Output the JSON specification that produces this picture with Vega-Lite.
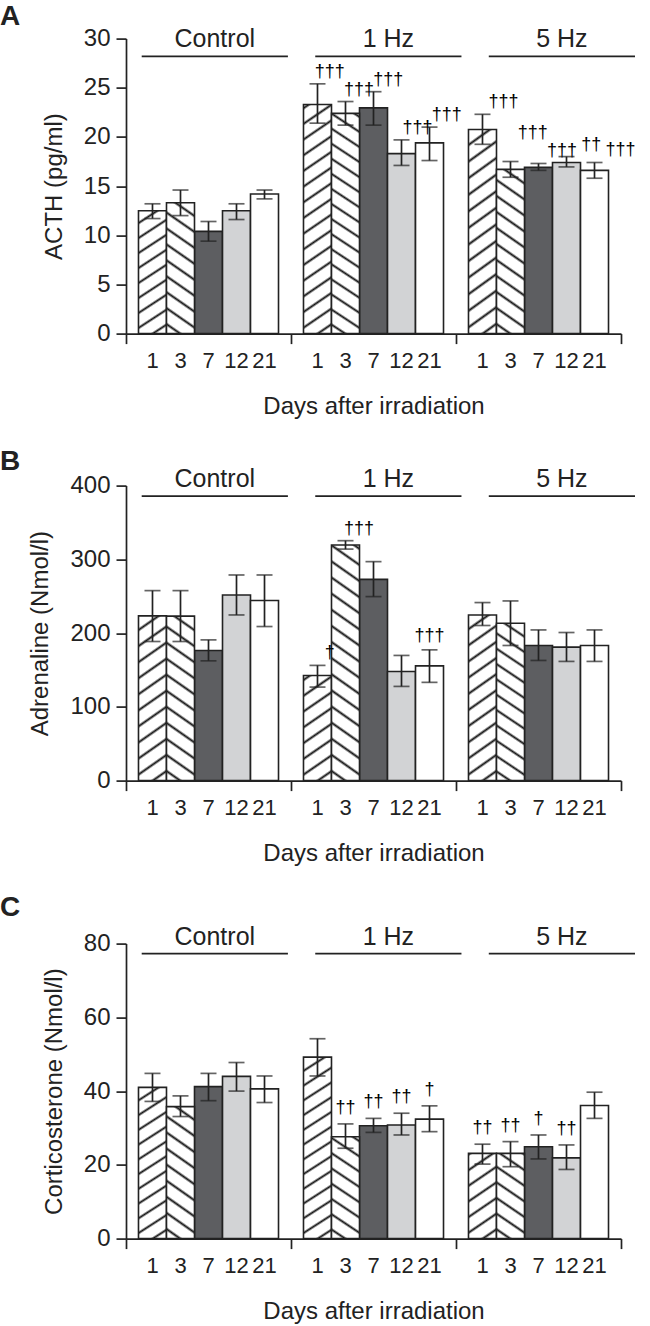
{
"$schema": "https://vega.github.io/schema/vega-lite/v6.json",
"padding": {"left": 0, "top": 2.6, "right": 0, "bottom": 0},
"background": "white",
"spacing": 28,
"datasets": {
"a": [
{"g":"Control","d":"1","m":12.5,"lo":11.7,"hi":13.2,"s":""},
{"g":"Control","d":"3","m":13.3,"lo":12.0,"hi":14.6,"s":""},
{"g":"Control","d":"7","m":10.4,"lo":9.4,"hi":11.4,"s":""},
{"g":"Control","d":"12","m":12.5,"lo":11.6,"hi":13.2,"s":""},
{"g":"Control","d":"21","m":14.2,"lo":13.7,"hi":14.6,"s":""},
{"g":"1 Hz","d":"1","m":23.3,"lo":21.4,"hi":25.4,"s":"†††"},
{"g":"1 Hz","d":"3","m":22.4,"lo":21.2,"hi":23.6,"s":"†††"},
{"g":"1 Hz","d":"7","m":22.95,"lo":21.2,"hi":24.6,"s":"†††"},
{"g":"1 Hz","d":"12","m":18.3,"lo":17.1,"hi":19.7,"s":"†††"},
{"g":"1 Hz","d":"21","m":19.4,"lo":17.6,"hi":21.0,"s":"†††"},
{"g":"5 Hz","d":"1","m":20.75,"lo":19.25,"hi":22.3,"s":"†††"},
{"g":"5 Hz","d":"3","m":16.7,"lo":15.9,"hi":17.5,"s":"†††"},
{"g":"5 Hz","d":"7","m":16.9,"lo":16.6,"hi":17.3,"s":"†††"},
{"g":"5 Hz","d":"12","m":17.4,"lo":16.95,"hi":18.0,"s":"††"},
{"g":"5 Hz","d":"21","m":16.6,"lo":15.8,"hi":17.4,"s":"†††"}
],
"b": [
{"g":"Control","d":"1","m":223.3,"lo":188.6,"hi":257.6,"s":""},
{"g":"Control","d":"3","m":223,"lo":188.6,"hi":257.6,"s":""},
{"g":"Control","d":"7","m":176.5,"lo":162.4,"hi":190.8,"s":""},
{"g":"Control","d":"12","m":251.7,"lo":224.6,"hi":278.8,"s":""},
{"g":"Control","d":"21","m":244.1,"lo":208.9,"hi":278.8,"s":""},
{"g":"1 Hz","d":"1","m":142.6,"lo":126.8,"hi":156.2,"s":"†"},
{"g":"1 Hz","d":"3","m":319.4,"lo":313.9,"hi":325.3,"s":"†††"},
{"g":"1 Hz","d":"7","m":272.9,"lo":249.5,"hi":296.9,"s":""},
{"g":"1 Hz","d":"12","m":148,"lo":127.7,"hi":169.7,"s":""},
{"g":"1 Hz","d":"21","m":155.6,"lo":133.2,"hi":177.3,"s":"†††"},
{"g":"5 Hz","d":"1","m":224.6,"lo":210.3,"hi":241.4,"s":""},
{"g":"5 Hz","d":"3","m":213.4,"lo":183.2,"hi":243.6,"s":""},
{"g":"5 Hz","d":"7","m":183.2,"lo":162.9,"hi":204.3,"s":""},
{"g":"5 Hz","d":"12","m":181,"lo":161.6,"hi":200.8,"s":""},
{"g":"5 Hz","d":"21","m":183.2,"lo":161.6,"hi":204.3,"s":""}
],
"c": [
{"g":"Control","d":"1","m":41.0,"lo":37.2,"hi":44.8,"s":""},
{"g":"Control","d":"3","m":35.8,"lo":33.1,"hi":38.7,"s":""},
{"g":"Control","d":"7","m":41.2,"lo":37.4,"hi":44.8,"s":""},
{"g":"Control","d":"12","m":44.0,"lo":40.0,"hi":47.75,"s":""},
{"g":"Control","d":"21","m":40.6,"lo":36.9,"hi":44.1,"s":""},
{"g":"1 Hz","d":"1","m":49.2,"lo":44.1,"hi":54.2,"s":""},
{"g":"1 Hz","d":"3","m":27.6,"lo":24.5,"hi":31.1,"s":"††"},
{"g":"1 Hz","d":"7","m":30.6,"lo":28.8,"hi":32.6,"s":"††"},
{"g":"1 Hz","d":"12","m":30.8,"lo":28.1,"hi":34.0,"s":"††"},
{"g":"1 Hz","d":"21","m":32.4,"lo":29.0,"hi":36.0,"s":"†"},
{"g":"5 Hz","d":"1","m":23.1,"lo":20.2,"hi":25.6,"s":"††"},
{"g":"5 Hz","d":"3","m":23.1,"lo":19.5,"hi":26.3,"s":"††"},
{"g":"5 Hz","d":"7","m":24.9,"lo":21.6,"hi":28.1,"s":"†"},
{"g":"5 Hz","d":"12","m":21.9,"lo":18.75,"hi":25.4,"s":"††"},
{"g":"5 Hz","d":"21","m":36.1,"lo":32.6,"hi":39.7,"s":""}
],
"hdr": [{"g":"Control"},{"g":"1 Hz"},{"g":"5 Hz"}]
},
"vconcat": [
{
"title": {"text": "A", "offset": -4.4},
"width": 495, "height": 295,
"resolve": {"scale": {"x": "independent", "xOffset": "independent"}},
"layer": [
{
"data": {"name": "a"},
"encoding": {
"x": {"field": "g", "type": "nominal", "scale": {"type": "band", "domain": ["Control","1 Hz","5 Hz"], "paddingInner": 0, "paddingOuter": 0}, "axis": {"labels": false, "tickBand": "extent", "title": "Days after irradiation", "titlePadding": 50}},
"xOffset": {"field": "d", "type": "nominal", "scale": {"type": "band", "domain": ["1","3","7","12","21"], "paddingInner": 0, "paddingOuter": 0.446}},
"y": {"field": "m", "type": "quantitative", "scale": {"domain": [0, 30], "nice": false}, "axis": {"values": [0,5,10,15,20,25,30], "title": "ACTH (pg/ml)"}}
},
"layer": [
{"transform": [{"filter": "datum.d=='7'||datum.d=='12'||datum.d=='21'"}], "mark": "bar", "encoding": {"fill": {"field": "d", "type": "nominal", "scale": {"domain": ["7","12","21"], "range": ["#5d5e61","#d2d3d5","#ffffff"]}, "legend": null}}},
{"transform": [{"filter": "datum.g=='Control'&&datum.d=='1'"}], "mark": {"type": "bar", "fill": {"gradient": "linear", "x1": 1, "y1": 1, "x2": 0.8328, "y2": -0.1239, "stops": [
{"offset":0.047,"color":"#fff"},{"offset":0.0633,"color":"#111"},{"offset":0.0796,"color":"#fff"},
{"offset":0.1531,"color":"#fff"},{"offset":0.1694,"color":"#111"},{"offset":0.1857,"color":"#fff"},
{"offset":0.2592,"color":"#fff"},{"offset":0.2755,"color":"#111"},{"offset":0.2918,"color":"#fff"},
{"offset":0.3653,"color":"#fff"},{"offset":0.3816,"color":"#111"},{"offset":0.3979,"color":"#fff"},
{"offset":0.4715,"color":"#fff"},{"offset":0.4878,"color":"#111"},{"offset":0.5041,"color":"#fff"},
{"offset":0.5776,"color":"#fff"},{"offset":0.5939,"color":"#111"},{"offset":0.6102,"color":"#fff"},
{"offset":0.6837,"color":"#fff"},{"offset":0.7,"color":"#111"},{"offset":0.7163,"color":"#fff"},
{"offset":0.7898,"color":"#fff"},{"offset":0.8061,"color":"#111"},{"offset":0.8224,"color":"#fff"},
{"offset":0.8959,"color":"#fff"},{"offset":0.9122,"color":"#111"},{"offset":0.9285,"color":"#fff"}]}}},
{"transform": [{"filter": "datum.g=='Control'&&datum.d=='3'"}], "mark": {"type": "bar", "fill": {"gradient": "linear", "x1": 0, "y1": 1, "x2": 0.1672, "y2": -0.1239, "stops": [
{"offset":0.047,"color":"#fff"},{"offset":0.0633,"color":"#111"},{"offset":0.0796,"color":"#fff"},
{"offset":0.1531,"color":"#fff"},{"offset":0.1694,"color":"#111"},{"offset":0.1857,"color":"#fff"},
{"offset":0.2592,"color":"#fff"},{"offset":0.2755,"color":"#111"},{"offset":0.2918,"color":"#fff"},
{"offset":0.3653,"color":"#fff"},{"offset":0.3816,"color":"#111"},{"offset":0.3979,"color":"#fff"},
{"offset":0.4715,"color":"#fff"},{"offset":0.4878,"color":"#111"},{"offset":0.5041,"color":"#fff"},
{"offset":0.5776,"color":"#fff"},{"offset":0.5939,"color":"#111"},{"offset":0.6102,"color":"#fff"},
{"offset":0.6837,"color":"#fff"},{"offset":0.7,"color":"#111"},{"offset":0.7163,"color":"#fff"},
{"offset":0.7898,"color":"#fff"},{"offset":0.8061,"color":"#111"},{"offset":0.8224,"color":"#fff"},
{"offset":0.8959,"color":"#fff"},{"offset":0.9122,"color":"#111"},{"offset":0.9285,"color":"#fff"}]}}},
{"transform": [{"filter": "datum.g=='1 Hz'&&datum.d=='1'"}], "mark": {"type": "bar", "fill": {"gradient": "linear", "x1": 1, "y1": 1, "x2": 0.9101, "y2": -0.076, "stops": [
{"offset":0.028,"color":"#fff"},{"offset":0.0377,"color":"#111"},{"offset":0.0474,"color":"#fff"},
{"offset":0.0911,"color":"#fff"},{"offset":0.1008,"color":"#111"},{"offset":0.1105,"color":"#fff"},
{"offset":0.1543,"color":"#fff"},{"offset":0.164,"color":"#111"},{"offset":0.1737,"color":"#fff"},
{"offset":0.2174,"color":"#fff"},{"offset":0.2271,"color":"#111"},{"offset":0.2368,"color":"#fff"},
{"offset":0.2806,"color":"#fff"},{"offset":0.2903,"color":"#111"},{"offset":0.3,"color":"#fff"},
{"offset":0.3438,"color":"#fff"},{"offset":0.3535,"color":"#111"},{"offset":0.3632,"color":"#fff"},
{"offset":0.4069,"color":"#fff"},{"offset":0.4166,"color":"#111"},{"offset":0.4263,"color":"#fff"},
{"offset":0.4701,"color":"#fff"},{"offset":0.4798,"color":"#111"},{"offset":0.4895,"color":"#fff"},
{"offset":0.5333,"color":"#fff"},{"offset":0.543,"color":"#111"},{"offset":0.5527,"color":"#fff"},
{"offset":0.5964,"color":"#fff"},{"offset":0.6061,"color":"#111"},{"offset":0.6158,"color":"#fff"},
{"offset":0.6596,"color":"#fff"},{"offset":0.6693,"color":"#111"},{"offset":0.679,"color":"#fff"},
{"offset":0.7228,"color":"#fff"},{"offset":0.7325,"color":"#111"},{"offset":0.7422,"color":"#fff"},
{"offset":0.7859,"color":"#fff"},{"offset":0.7956,"color":"#111"},{"offset":0.8053,"color":"#fff"},
{"offset":0.8491,"color":"#fff"},{"offset":0.8588,"color":"#111"},{"offset":0.8685,"color":"#fff"},
{"offset":0.9123,"color":"#fff"},{"offset":0.922,"color":"#111"},{"offset":0.9317,"color":"#fff"},
{"offset":0.9754,"color":"#fff"},{"offset":0.9851,"color":"#111"},{"offset":0.9948,"color":"#fff"}]}}},
{"transform": [{"filter": "datum.g=='1 Hz'&&datum.d=='3'"}], "mark": {"type": "bar", "fill": {"gradient": "linear", "x1": 0, "y1": 1, "x2": 0.0899, "y2": -0.076, "stops": [
{"offset":0.028,"color":"#fff"},{"offset":0.0377,"color":"#111"},{"offset":0.0474,"color":"#fff"},
{"offset":0.0911,"color":"#fff"},{"offset":0.1008,"color":"#111"},{"offset":0.1105,"color":"#fff"},
{"offset":0.1543,"color":"#fff"},{"offset":0.164,"color":"#111"},{"offset":0.1737,"color":"#fff"},
{"offset":0.2174,"color":"#fff"},{"offset":0.2271,"color":"#111"},{"offset":0.2368,"color":"#fff"},
{"offset":0.2806,"color":"#fff"},{"offset":0.2903,"color":"#111"},{"offset":0.3,"color":"#fff"},
{"offset":0.3438,"color":"#fff"},{"offset":0.3535,"color":"#111"},{"offset":0.3632,"color":"#fff"},
{"offset":0.4069,"color":"#fff"},{"offset":0.4166,"color":"#111"},{"offset":0.4263,"color":"#fff"},
{"offset":0.4701,"color":"#fff"},{"offset":0.4798,"color":"#111"},{"offset":0.4895,"color":"#fff"},
{"offset":0.5333,"color":"#fff"},{"offset":0.543,"color":"#111"},{"offset":0.5527,"color":"#fff"},
{"offset":0.5964,"color":"#fff"},{"offset":0.6061,"color":"#111"},{"offset":0.6158,"color":"#fff"},
{"offset":0.6596,"color":"#fff"},{"offset":0.6693,"color":"#111"},{"offset":0.679,"color":"#fff"},
{"offset":0.7228,"color":"#fff"},{"offset":0.7325,"color":"#111"},{"offset":0.7422,"color":"#fff"},
{"offset":0.7859,"color":"#fff"},{"offset":0.7956,"color":"#111"},{"offset":0.8053,"color":"#fff"},
{"offset":0.8491,"color":"#fff"},{"offset":0.8588,"color":"#111"},{"offset":0.8685,"color":"#fff"},
{"offset":0.9123,"color":"#fff"},{"offset":0.922,"color":"#111"},{"offset":0.9317,"color":"#fff"},
{"offset":0.9754,"color":"#fff"},{"offset":0.9851,"color":"#111"},{"offset":0.9948,"color":"#fff"}]}}},
{"transform": [{"filter": "datum.g=='5 Hz'&&datum.d=='1'"}], "mark": {"type": "bar", "fill": {"gradient": "linear", "x1": 1, "y1": 1, "x2": 0.8921, "y2": -0.0885, "stops": [
{"offset":0.0327,"color":"#fff"},{"offset":0.0441,"color":"#111"},{"offset":0.0555,"color":"#fff"},
{"offset":0.1066,"color":"#fff"},{"offset":0.118,"color":"#111"},{"offset":0.1294,"color":"#fff"},
{"offset":0.1805,"color":"#fff"},{"offset":0.1919,"color":"#111"},{"offset":0.2033,"color":"#fff"},
{"offset":0.2545,"color":"#fff"},{"offset":0.2659,"color":"#111"},{"offset":0.2773,"color":"#fff"},
{"offset":0.3284,"color":"#fff"},{"offset":0.3398,"color":"#111"},{"offset":0.3512,"color":"#fff"},
{"offset":0.4023,"color":"#fff"},{"offset":0.4137,"color":"#111"},{"offset":0.4251,"color":"#fff"},
{"offset":0.4762,"color":"#fff"},{"offset":0.4876,"color":"#111"},{"offset":0.499,"color":"#fff"},
{"offset":0.5502,"color":"#fff"},{"offset":0.5616,"color":"#111"},{"offset":0.573,"color":"#fff"},
{"offset":0.6241,"color":"#fff"},{"offset":0.6355,"color":"#111"},{"offset":0.6469,"color":"#fff"},
{"offset":0.698,"color":"#fff"},{"offset":0.7094,"color":"#111"},{"offset":0.7208,"color":"#fff"},
{"offset":0.772,"color":"#fff"},{"offset":0.7834,"color":"#111"},{"offset":0.7948,"color":"#fff"},
{"offset":0.8459,"color":"#fff"},{"offset":0.8573,"color":"#111"},{"offset":0.8687,"color":"#fff"},
{"offset":0.9198,"color":"#fff"},{"offset":0.9312,"color":"#111"},{"offset":0.9426,"color":"#fff"}]}}},
{"transform": [{"filter": "datum.g=='5 Hz'&&datum.d=='3'"}], "mark": {"type": "bar", "fill": {"gradient": "linear", "x1": 0, "y1": 1, "x2": 0.1313, "y2": -0.1034, "stops": [
{"offset":0.0386,"color":"#fff"},{"offset":0.052,"color":"#111"},{"offset":0.0654,"color":"#fff"},
{"offset":0.1257,"color":"#fff"},{"offset":0.1391,"color":"#111"},{"offset":0.1525,"color":"#fff"},
{"offset":0.2128,"color":"#fff"},{"offset":0.2262,"color":"#111"},{"offset":0.2396,"color":"#fff"},
{"offset":0.3,"color":"#fff"},{"offset":0.3134,"color":"#111"},{"offset":0.3268,"color":"#fff"},
{"offset":0.3872,"color":"#fff"},{"offset":0.4006,"color":"#111"},{"offset":0.414,"color":"#fff"},
{"offset":0.4743,"color":"#fff"},{"offset":0.4877,"color":"#111"},{"offset":0.5011,"color":"#fff"},
{"offset":0.5615,"color":"#fff"},{"offset":0.5749,"color":"#111"},{"offset":0.5883,"color":"#fff"},
{"offset":0.6486,"color":"#fff"},{"offset":0.662,"color":"#111"},{"offset":0.6754,"color":"#fff"},
{"offset":0.7358,"color":"#fff"},{"offset":0.7492,"color":"#111"},{"offset":0.7626,"color":"#fff"},
{"offset":0.8229,"color":"#fff"},{"offset":0.8363,"color":"#111"},{"offset":0.8497,"color":"#fff"},
{"offset":0.9101,"color":"#fff"},{"offset":0.9235,"color":"#111"},{"offset":0.9369,"color":"#fff"}]}}},
{"mark": "rule", "encoding": {"y": {"field": "lo", "type": "quantitative"}, "y2": {"field": "hi"}}},
{"mark": {"type": "tick", "size": 16}, "encoding": {"y": {"field": "lo", "type": "quantitative"}}},
{"mark": {"type": "tick", "size": 16}, "encoding": {"y": {"field": "hi", "type": "quantitative"}}},
{"mark": {"type": "text", "baseline": "middle", "dy": 27, "fontSize": 22}, "encoding": {"y": {"datum": 0}, "text": {"field": "d"}}}
]
},
{
"encoding": {"x": {"field": "g", "type": "nominal", "scale": {"type": "band", "domain": ["Control","1 Hz","5 Hz"], "range": [15.7, 509], "paddingInner": 0.1575, "paddingOuter": 0}, "axis": null}},
"layer": [
{"data": {"name": "hdr"}, "mark": "rule", "encoding": {"x": {"field": "g", "type": "nominal", "bandPosition": 0, "axis": null}, "x2": {"field": "g", "bandPosition": 1}, "y": {"datum": 28.2}}},
{"data": {"name": "hdr"}, "mark": {"type": "text", "fontSize": 25, "baseline": "alphabetic"}, "encoding": {"y": {"datum": 29.1}, "text": {"field": "g"}}},
{"data": {"name": "a"}, "transform": [{"filter": "datum.s!=''&&!(datum.g=='5 Hz'&&datum.d=='3')"}], "mark": {"type": "text", "fontSize": 18, "baseline": "alphabetic", "dy": -7, "color": "#000"}, "encoding": {"xOffset": {"field": "d", "type": "nominal", "scale": {"type": "band", "domain": ["1","3","7","12","21"], "paddingInner": 0, "paddingOuter": 0}}, "y": {"field": "hi", "type": "quantitative"}, "text": {"field": "s"}}},
{"data": {"name": "a"}, "transform": [{"filter": "datum.g=='5 Hz'&&datum.d=='3'"}], "mark": {"type": "text", "fontSize": 18, "baseline": "alphabetic", "dy": -24, "color": "#000"}, "encoding": {"xOffset": {"field": "d", "type": "nominal", "scale": {"type": "band", "domain": ["1","3","7","12","21"], "paddingInner": 0, "paddingOuter": 0}}, "y": {"field": "hi", "type": "quantitative"}, "text": {"field": "s"}}}
]
}
]
},
{
"title": {"text": "B", "offset": -8.8},
"width": 495, "height": 295,
"resolve": {"scale": {"x": "independent", "xOffset": "independent"}},
"layer": [
{
"data": {"name": "b"},
"encoding": {
"x": {"field": "g", "type": "nominal", "scale": {"type": "band", "domain": ["Control","1 Hz","5 Hz"], "paddingInner": 0, "paddingOuter": 0}, "axis": {"labels": false, "tickBand": "extent", "title": "Days after irradiation", "titlePadding": 50}},
"xOffset": {"field": "d", "type": "nominal", "scale": {"type": "band", "domain": ["1","3","7","12","21"], "paddingInner": 0, "paddingOuter": 0.446}},
"y": {"field": "m", "type": "quantitative", "scale": {"domain": [0, 400], "nice": false}, "axis": {"values": [0,100,200,300,400], "title": "Adrenaline (Nmol/l)"}}
},
"layer": [
{"transform": [{"filter": "datum.d=='7'||datum.d=='12'||datum.d=='21'"}], "mark": "bar", "encoding": {"fill": {"field": "d", "type": "nominal", "scale": {"domain": ["7","12","21"], "range": ["#5d5e61","#d2d3d5","#ffffff"]}, "legend": null}}},
{"transform": [{"filter": "(datum.g=='Control'||datum.g=='5 Hz')&&datum.d=='1'"}], "mark": {"type": "bar", "fill": {"gradient": "linear", "x1": 1, "y1": 1, "x2": 0.8687, "y2": -0.1034, "stops": [
{"offset":0.0386,"color":"#fff"},{"offset":0.052,"color":"#111"},{"offset":0.0654,"color":"#fff"},
{"offset":0.1257,"color":"#fff"},{"offset":0.1391,"color":"#111"},{"offset":0.1525,"color":"#fff"},
{"offset":0.2128,"color":"#fff"},{"offset":0.2262,"color":"#111"},{"offset":0.2396,"color":"#fff"},
{"offset":0.3,"color":"#fff"},{"offset":0.3134,"color":"#111"},{"offset":0.3268,"color":"#fff"},
{"offset":0.3872,"color":"#fff"},{"offset":0.4006,"color":"#111"},{"offset":0.414,"color":"#fff"},
{"offset":0.4743,"color":"#fff"},{"offset":0.4877,"color":"#111"},{"offset":0.5011,"color":"#fff"},
{"offset":0.5615,"color":"#fff"},{"offset":0.5749,"color":"#111"},{"offset":0.5883,"color":"#fff"},
{"offset":0.6486,"color":"#fff"},{"offset":0.662,"color":"#111"},{"offset":0.6754,"color":"#fff"},
{"offset":0.7358,"color":"#fff"},{"offset":0.7492,"color":"#111"},{"offset":0.7626,"color":"#fff"},
{"offset":0.8229,"color":"#fff"},{"offset":0.8363,"color":"#111"},{"offset":0.8497,"color":"#fff"},
{"offset":0.9101,"color":"#fff"},{"offset":0.9235,"color":"#111"},{"offset":0.9369,"color":"#fff"}]}}},
{"transform": [{"filter": "(datum.g=='Control'||datum.g=='5 Hz')&&datum.d=='3'"}], "mark": {"type": "bar", "fill": {"gradient": "linear", "x1": 0, "y1": 1, "x2": 0.1313, "y2": -0.1034, "stops": [
{"offset":0.0386,"color":"#fff"},{"offset":0.052,"color":"#111"},{"offset":0.0654,"color":"#fff"},
{"offset":0.1257,"color":"#fff"},{"offset":0.1391,"color":"#111"},{"offset":0.1525,"color":"#fff"},
{"offset":0.2128,"color":"#fff"},{"offset":0.2262,"color":"#111"},{"offset":0.2396,"color":"#fff"},
{"offset":0.3,"color":"#fff"},{"offset":0.3134,"color":"#111"},{"offset":0.3268,"color":"#fff"},
{"offset":0.3872,"color":"#fff"},{"offset":0.4006,"color":"#111"},{"offset":0.414,"color":"#fff"},
{"offset":0.4743,"color":"#fff"},{"offset":0.4877,"color":"#111"},{"offset":0.5011,"color":"#fff"},
{"offset":0.5615,"color":"#fff"},{"offset":0.5749,"color":"#111"},{"offset":0.5883,"color":"#fff"},
{"offset":0.6486,"color":"#fff"},{"offset":0.662,"color":"#111"},{"offset":0.6754,"color":"#fff"},
{"offset":0.7358,"color":"#fff"},{"offset":0.7492,"color":"#111"},{"offset":0.7626,"color":"#fff"},
{"offset":0.8229,"color":"#fff"},{"offset":0.8363,"color":"#111"},{"offset":0.8497,"color":"#fff"},
{"offset":0.9101,"color":"#fff"},{"offset":0.9235,"color":"#111"},{"offset":0.9369,"color":"#fff"}]}}},
{"transform": [{"filter": "datum.g=='1 Hz'&&datum.d=='1'"}], "mark": {"type": "bar", "fill": {"gradient": "linear", "x1": 1, "y1": 1, "x2": 0.7904, "y2": -0.1447, "stops": [
{"offset":0.0561,"color":"#fff"},{"offset":0.0756,"color":"#111"},{"offset":0.0951,"color":"#fff"},
{"offset":0.1829,"color":"#fff"},{"offset":0.2024,"color":"#111"},{"offset":0.2219,"color":"#fff"},
{"offset":0.3098,"color":"#fff"},{"offset":0.3293,"color":"#111"},{"offset":0.3488,"color":"#fff"},
{"offset":0.4366,"color":"#fff"},{"offset":0.4561,"color":"#111"},{"offset":0.4756,"color":"#fff"},
{"offset":0.5634,"color":"#fff"},{"offset":0.5829,"color":"#111"},{"offset":0.6024,"color":"#fff"},
{"offset":0.6903,"color":"#fff"},{"offset":0.7098,"color":"#111"},{"offset":0.7293,"color":"#fff"},
{"offset":0.8171,"color":"#fff"},{"offset":0.8366,"color":"#111"},{"offset":0.8561,"color":"#fff"},
{"offset":0.9439,"color":"#fff"},{"offset":0.9634,"color":"#111"},{"offset":0.9829,"color":"#fff"}]}}},
{"transform": [{"filter": "datum.g=='1 Hz'&&datum.d=='3'"}], "mark": {"type": "bar", "fill": {"gradient": "linear", "x1": 0, "y1": 1, "x2": 0.0899, "y2": -0.076, "stops": [
{"offset":0.028,"color":"#fff"},{"offset":0.0377,"color":"#111"},{"offset":0.0474,"color":"#fff"},
{"offset":0.0911,"color":"#fff"},{"offset":0.1008,"color":"#111"},{"offset":0.1105,"color":"#fff"},
{"offset":0.1543,"color":"#fff"},{"offset":0.164,"color":"#111"},{"offset":0.1737,"color":"#fff"},
{"offset":0.2174,"color":"#fff"},{"offset":0.2271,"color":"#111"},{"offset":0.2368,"color":"#fff"},
{"offset":0.2806,"color":"#fff"},{"offset":0.2903,"color":"#111"},{"offset":0.3,"color":"#fff"},
{"offset":0.3438,"color":"#fff"},{"offset":0.3535,"color":"#111"},{"offset":0.3632,"color":"#fff"},
{"offset":0.4069,"color":"#fff"},{"offset":0.4166,"color":"#111"},{"offset":0.4263,"color":"#fff"},
{"offset":0.4701,"color":"#fff"},{"offset":0.4798,"color":"#111"},{"offset":0.4895,"color":"#fff"},
{"offset":0.5333,"color":"#fff"},{"offset":0.543,"color":"#111"},{"offset":0.5527,"color":"#fff"},
{"offset":0.5964,"color":"#fff"},{"offset":0.6061,"color":"#111"},{"offset":0.6158,"color":"#fff"},
{"offset":0.6596,"color":"#fff"},{"offset":0.6693,"color":"#111"},{"offset":0.679,"color":"#fff"},
{"offset":0.7228,"color":"#fff"},{"offset":0.7325,"color":"#111"},{"offset":0.7422,"color":"#fff"},
{"offset":0.7859,"color":"#fff"},{"offset":0.7956,"color":"#111"},{"offset":0.8053,"color":"#fff"},
{"offset":0.8491,"color":"#fff"},{"offset":0.8588,"color":"#111"},{"offset":0.8685,"color":"#fff"},
{"offset":0.9123,"color":"#fff"},{"offset":0.922,"color":"#111"},{"offset":0.9317,"color":"#fff"},
{"offset":0.9754,"color":"#fff"},{"offset":0.9851,"color":"#111"},{"offset":0.9948,"color":"#fff"}]}}},
{"mark": "rule", "encoding": {"y": {"field": "lo", "type": "quantitative"}, "y2": {"field": "hi"}}},
{"mark": {"type": "tick", "size": 16}, "encoding": {"y": {"field": "lo", "type": "quantitative"}}},
{"mark": {"type": "tick", "size": 16}, "encoding": {"y": {"field": "hi", "type": "quantitative"}}},
{"mark": {"type": "text", "baseline": "middle", "dy": 27, "fontSize": 22}, "encoding": {"y": {"datum": 0}, "text": {"field": "d"}}},
{"transform": [{"filter": "datum.s!=''&&datum.d=='21'"}], "mark": {"type": "text", "fontSize": 18, "baseline": "alphabetic", "dy": -9, "color": "#000"}, "encoding": {"y": {"field": "hi", "type": "quantitative"}, "text": {"field": "s"}}}
]
},
{
"encoding": {"x": {"field": "g", "type": "nominal", "scale": {"type": "band", "domain": ["Control","1 Hz","5 Hz"], "range": [15.7, 509], "paddingInner": 0.1575, "paddingOuter": 0}, "axis": null}},
"layer": [
{"data": {"name": "hdr"}, "mark": "rule", "encoding": {"x": {"field": "g", "type": "nominal", "bandPosition": 0, "axis": null}, "x2": {"field": "g", "bandPosition": 1}, "y": {"datum": 385.7}}},
{"data": {"name": "hdr"}, "mark": {"type": "text", "fontSize": 25, "baseline": "alphabetic"}, "encoding": {"y": {"datum": 398.4}, "text": {"field": "g"}}},
{"data": {"name": "b"}, "transform": [{"filter": "datum.s!=''&&datum.d!='21'"}], "mark": {"type": "text", "fontSize": 18, "baseline": "alphabetic", "dy": -7, "color": "#000"}, "encoding": {"xOffset": {"field": "d", "type": "nominal", "scale": {"type": "band", "domain": ["1","3","7","12","21"], "paddingInner": 0, "paddingOuter": 0}}, "y": {"field": "hi", "type": "quantitative"}, "text": {"field": "s"}}}
]
}
]
},
{
"title": {"text": "C", "offset": 2.8},
"width": 495, "height": 295,
"resolve": {"scale": {"x": "independent", "xOffset": "independent"}},
"layer": [
{
"data": {"name": "c"},
"encoding": {
"x": {"field": "g", "type": "nominal", "scale": {"type": "band", "domain": ["Control","1 Hz","5 Hz"], "paddingInner": 0, "paddingOuter": 0}, "axis": {"labels": false, "tickBand": "extent", "title": "Days after irradiation", "titlePadding": 50}},
"xOffset": {"field": "d", "type": "nominal", "scale": {"type": "band", "domain": ["1","3","7","12","21"], "paddingInner": 0, "paddingOuter": 0.446}},
"y": {"field": "m", "type": "quantitative", "scale": {"domain": [0, 80], "nice": false}, "axis": {"values": [0,20,40,60,80], "title": "Corticosterone (Nmol/l)"}}
},
"layer": [
{"transform": [{"filter": "datum.d=='7'||datum.d=='12'||datum.d=='21'"}], "mark": "bar", "encoding": {"fill": {"field": "d", "type": "nominal", "scale": {"domain": ["7","12","21"], "range": ["#5d5e61","#d2d3d5","#ffffff"]}, "legend": null}}},
{"transform": [{"filter": "datum.g=='Control'&&datum.d=='1'"}], "mark": {"type": "bar", "fill": {"gradient": "linear", "x1": 1, "y1": 1, "x2": 0.8687, "y2": -0.1034, "stops": [
{"offset":0.0386,"color":"#fff"},{"offset":0.052,"color":"#111"},{"offset":0.0654,"color":"#fff"},
{"offset":0.1257,"color":"#fff"},{"offset":0.1391,"color":"#111"},{"offset":0.1525,"color":"#fff"},
{"offset":0.2128,"color":"#fff"},{"offset":0.2262,"color":"#111"},{"offset":0.2396,"color":"#fff"},
{"offset":0.3,"color":"#fff"},{"offset":0.3134,"color":"#111"},{"offset":0.3268,"color":"#fff"},
{"offset":0.3872,"color":"#fff"},{"offset":0.4006,"color":"#111"},{"offset":0.414,"color":"#fff"},
{"offset":0.4743,"color":"#fff"},{"offset":0.4877,"color":"#111"},{"offset":0.5011,"color":"#fff"},
{"offset":0.5615,"color":"#fff"},{"offset":0.5749,"color":"#111"},{"offset":0.5883,"color":"#fff"},
{"offset":0.6486,"color":"#fff"},{"offset":0.662,"color":"#111"},{"offset":0.6754,"color":"#fff"},
{"offset":0.7358,"color":"#fff"},{"offset":0.7492,"color":"#111"},{"offset":0.7626,"color":"#fff"},
{"offset":0.8229,"color":"#fff"},{"offset":0.8363,"color":"#111"},{"offset":0.8497,"color":"#fff"},
{"offset":0.9101,"color":"#fff"},{"offset":0.9235,"color":"#111"},{"offset":0.9369,"color":"#fff"}]}}},
{"transform": [{"filter": "datum.g=='Control'&&datum.d=='3'"}], "mark": {"type": "bar", "fill": {"gradient": "linear", "x1": 0, "y1": 1, "x2": 0.1672, "y2": -0.1239, "stops": [
{"offset":0.047,"color":"#fff"},{"offset":0.0633,"color":"#111"},{"offset":0.0796,"color":"#fff"},
{"offset":0.1531,"color":"#fff"},{"offset":0.1694,"color":"#111"},{"offset":0.1857,"color":"#fff"},
{"offset":0.2592,"color":"#fff"},{"offset":0.2755,"color":"#111"},{"offset":0.2918,"color":"#fff"},
{"offset":0.3653,"color":"#fff"},{"offset":0.3816,"color":"#111"},{"offset":0.3979,"color":"#fff"},
{"offset":0.4715,"color":"#fff"},{"offset":0.4878,"color":"#111"},{"offset":0.5041,"color":"#fff"},
{"offset":0.5776,"color":"#fff"},{"offset":0.5939,"color":"#111"},{"offset":0.6102,"color":"#fff"},
{"offset":0.6837,"color":"#fff"},{"offset":0.7,"color":"#111"},{"offset":0.7163,"color":"#fff"},
{"offset":0.7898,"color":"#fff"},{"offset":0.8061,"color":"#111"},{"offset":0.8224,"color":"#fff"},
{"offset":0.8959,"color":"#fff"},{"offset":0.9122,"color":"#111"},{"offset":0.9285,"color":"#fff"}]}}},
{"transform": [{"filter": "datum.g=='1 Hz'&&datum.d=='1'"}], "mark": {"type": "bar", "fill": {"gradient": "linear", "x1": 1, "y1": 1, "x2": 0.8921, "y2": -0.0885, "stops": [
{"offset":0.0327,"color":"#fff"},{"offset":0.0441,"color":"#111"},{"offset":0.0555,"color":"#fff"},
{"offset":0.1066,"color":"#fff"},{"offset":0.118,"color":"#111"},{"offset":0.1294,"color":"#fff"},
{"offset":0.1805,"color":"#fff"},{"offset":0.1919,"color":"#111"},{"offset":0.2033,"color":"#fff"},
{"offset":0.2545,"color":"#fff"},{"offset":0.2659,"color":"#111"},{"offset":0.2773,"color":"#fff"},
{"offset":0.3284,"color":"#fff"},{"offset":0.3398,"color":"#111"},{"offset":0.3512,"color":"#fff"},
{"offset":0.4023,"color":"#fff"},{"offset":0.4137,"color":"#111"},{"offset":0.4251,"color":"#fff"},
{"offset":0.4762,"color":"#fff"},{"offset":0.4876,"color":"#111"},{"offset":0.499,"color":"#fff"},
{"offset":0.5502,"color":"#fff"},{"offset":0.5616,"color":"#111"},{"offset":0.573,"color":"#fff"},
{"offset":0.6241,"color":"#fff"},{"offset":0.6355,"color":"#111"},{"offset":0.6469,"color":"#fff"},
{"offset":0.698,"color":"#fff"},{"offset":0.7094,"color":"#111"},{"offset":0.7208,"color":"#fff"},
{"offset":0.772,"color":"#fff"},{"offset":0.7834,"color":"#111"},{"offset":0.7948,"color":"#fff"},
{"offset":0.8459,"color":"#fff"},{"offset":0.8573,"color":"#111"},{"offset":0.8687,"color":"#fff"},
{"offset":0.9198,"color":"#fff"},{"offset":0.9312,"color":"#111"},{"offset":0.9426,"color":"#fff"}]}}},
{"transform": [{"filter": "datum.g=='1 Hz'&&datum.d=='3'"}], "mark": {"type": "bar", "fill": {"gradient": "linear", "x1": 0, "y1": 1, "x2": 0.2096, "y2": -0.1447, "stops": [
{"offset":0.0561,"color":"#fff"},{"offset":0.0756,"color":"#111"},{"offset":0.0951,"color":"#fff"},
{"offset":0.1829,"color":"#fff"},{"offset":0.2024,"color":"#111"},{"offset":0.2219,"color":"#fff"},
{"offset":0.3098,"color":"#fff"},{"offset":0.3293,"color":"#111"},{"offset":0.3488,"color":"#fff"},
{"offset":0.4366,"color":"#fff"},{"offset":0.4561,"color":"#111"},{"offset":0.4756,"color":"#fff"},
{"offset":0.5634,"color":"#fff"},{"offset":0.5829,"color":"#111"},{"offset":0.6024,"color":"#fff"},
{"offset":0.6903,"color":"#fff"},{"offset":0.7098,"color":"#111"},{"offset":0.7293,"color":"#fff"},
{"offset":0.8171,"color":"#fff"},{"offset":0.8366,"color":"#111"},{"offset":0.8561,"color":"#fff"},
{"offset":0.9439,"color":"#fff"},{"offset":0.9634,"color":"#111"},{"offset":0.9829,"color":"#fff"}]}}},
{"transform": [{"filter": "datum.g=='5 Hz'&&datum.d=='1'"}], "mark": {"type": "bar", "fill": {"gradient": "linear", "x1": 1, "y1": 1, "x2": 0.7389, "y2": -0.1655, "stops": [
{"offset":0.0663,"color":"#fff"},{"offset":0.0894,"color":"#111"},{"offset":0.1125,"color":"#fff"},
{"offset":0.2163,"color":"#fff"},{"offset":0.2394,"color":"#111"},{"offset":0.2625,"color":"#fff"},
{"offset":0.3663,"color":"#fff"},{"offset":0.3894,"color":"#111"},{"offset":0.4125,"color":"#fff"},
{"offset":0.5163,"color":"#fff"},{"offset":0.5394,"color":"#111"},{"offset":0.5625,"color":"#fff"},
{"offset":0.6663,"color":"#fff"},{"offset":0.6894,"color":"#111"},{"offset":0.7125,"color":"#fff"},
{"offset":0.8163,"color":"#fff"},{"offset":0.8394,"color":"#111"},{"offset":0.8625,"color":"#fff"},
{"offset":0.9663,"color":"#fff"},{"offset":0.9894,"color":"#111"},{"offset":1,"color":"#fff"}]}}},
{"transform": [{"filter": "datum.g=='5 Hz'&&datum.d=='3'"}], "mark": {"type": "bar", "fill": {"gradient": "linear", "x1": 0, "y1": 1, "x2": 0.2611, "y2": -0.1655, "stops": [
{"offset":0.0663,"color":"#fff"},{"offset":0.0894,"color":"#111"},{"offset":0.1125,"color":"#fff"},
{"offset":0.2163,"color":"#fff"},{"offset":0.2394,"color":"#111"},{"offset":0.2625,"color":"#fff"},
{"offset":0.3663,"color":"#fff"},{"offset":0.3894,"color":"#111"},{"offset":0.4125,"color":"#fff"},
{"offset":0.5163,"color":"#fff"},{"offset":0.5394,"color":"#111"},{"offset":0.5625,"color":"#fff"},
{"offset":0.6663,"color":"#fff"},{"offset":0.6894,"color":"#111"},{"offset":0.7125,"color":"#fff"},
{"offset":0.8163,"color":"#fff"},{"offset":0.8394,"color":"#111"},{"offset":0.8625,"color":"#fff"},
{"offset":0.9663,"color":"#fff"},{"offset":0.9894,"color":"#111"},{"offset":1,"color":"#fff"}]}}},
{"mark": "rule", "encoding": {"y": {"field": "lo", "type": "quantitative"}, "y2": {"field": "hi"}}},
{"mark": {"type": "tick", "size": 16}, "encoding": {"y": {"field": "lo", "type": "quantitative"}}},
{"mark": {"type": "tick", "size": 16}, "encoding": {"y": {"field": "hi", "type": "quantitative"}}},
{"mark": {"type": "text", "baseline": "middle", "dy": 27, "fontSize": 22}, "encoding": {"y": {"datum": 0}, "text": {"field": "d"}}},
{"transform": [{"filter": "datum.s!=''"}], "mark": {"type": "text", "fontSize": 18, "baseline": "alphabetic", "dy": -11, "color": "#000"}, "encoding": {"y": {"field": "hi", "type": "quantitative"}, "text": {"field": "s"}}}
]
},
{
"encoding": {"x": {"field": "g", "type": "nominal", "scale": {"type": "band", "domain": ["Control","1 Hz","5 Hz"], "range": [15.7, 509], "paddingInner": 0.1575, "paddingOuter": 0}, "axis": null}},
"layer": [
{"data": {"name": "hdr"}, "mark": "rule", "encoding": {"x": {"field": "g", "type": "nominal", "bandPosition": 0, "axis": null}, "x2": {"field": "g", "bandPosition": 1}, "y": {"datum": 77.3}}},
{"data": {"name": "hdr"}, "mark": {"type": "text", "fontSize": 25, "baseline": "alphabetic"}, "encoding": {"y": {"datum": 79.7}, "text": {"field": "g"}}}
]
}
]
}
],
"config": {
"font": "Liberation Sans",
"view": {"stroke": null},
"title": {"fontSize": 28, "fontWeight": "bold", "anchor": "start", "frame": "group", "dx": -126, "baseline": "alphabetic", "color": "#222", "font": "Liberation Sans"},
"axis": {"domainColor": "#222", "domainWidth": 1.7, "tickColor": "#222", "tickWidth": 1.7, "tickSize": 10, "labelColor": "#222", "labelFontSize": 24, "labelFont": "Liberation Sans", "labelPadding": 6, "titleColor": "#222", "titleFontSize": 24, "titleFontWeight": "normal", "titleFont": "Liberation Sans", "titlePadding": 17, "grid": false},
"bar": {"stroke": "#222", "strokeWidth": 1.6},
"rule": {"color": "#222", "strokeWidth": 1.7},
"tick": {"color": "#222", "thickness": 1.7},
"text": {"font": "Liberation Sans", "fontSize": 23, "color": "#222"}
}
}
